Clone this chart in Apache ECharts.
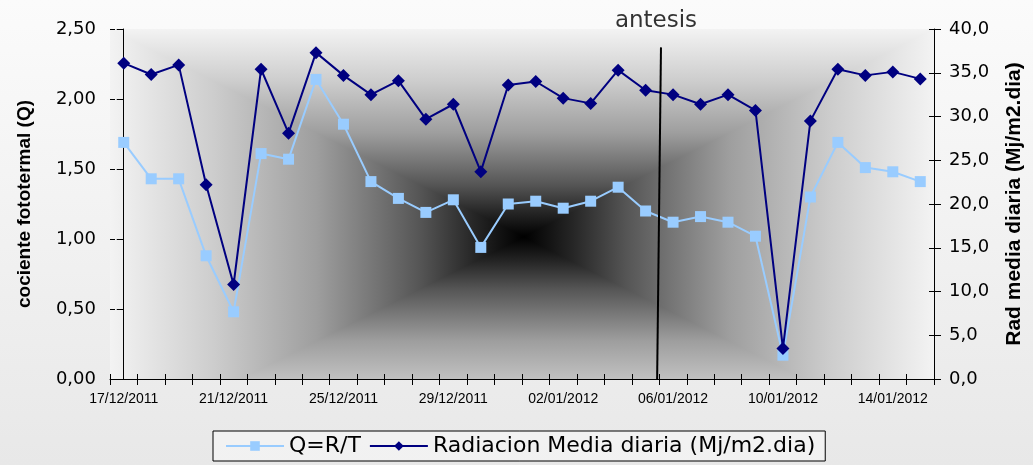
<!DOCTYPE html>
<html>
<head>
<meta charset="utf-8">
<script src="https://cdn.jsdelivr.net/npm/echarts@6/dist/echarts.min.js"></script>
<style>
  html, body { margin: 0; padding: 0; background: #fff; }
  #chart { width: 1033px; height: 465px; }
</style>
</head>
<body>
<div id="chart"></div>
<script>
// Daily dates of the period
const categories = [
  '17/12/2011', '18/12/2011', '19/12/2011', '20/12/2011', '21/12/2011',
  '22/12/2011', '23/12/2011', '24/12/2011', '25/12/2011', '26/12/2011',
  '27/12/2011', '28/12/2011', '29/12/2011', '30/12/2011', '31/12/2011',
  '01/01/2012', '02/01/2012', '03/01/2012', '04/01/2012', '05/01/2012',
  '06/01/2012', '07/01/2012', '08/01/2012', '09/01/2012', '10/01/2012',
  '11/01/2012', '12/01/2012', '13/01/2012', '14/01/2012', '15/01/2012'
];

// Photothermal quotient Q = R/T (left axis)
const qValues = [
  1.69, 1.43, 1.43, 0.88, 0.48, 1.61, 1.57, 2.14, 1.82, 1.41,
  1.29, 1.19, 1.28, 0.94, 1.25, 1.27, 1.22, 1.27, 1.37, 1.20,
  1.12, 1.16, 1.12, 1.02, 0.17, 1.30, 1.69, 1.51, 1.48, 1.41
];

// Mean daily radiation, Mj/m2.dia (right axis)
const radValues = [
  36.1, 34.8, 35.9, 22.2, 10.8, 35.4, 28.1, 37.3, 34.7, 32.5,
  34.1, 29.7, 31.4, 23.7, 33.6, 34.0, 32.1, 31.5, 35.3, 33.0,
  32.5, 31.4, 32.5, 30.7, 3.5, 29.5, 35.4, 34.7, 35.1, 34.3
];

// Anthesis marker: position along the day index (top, bottom) and its radiation-axis extent
const antesisIndex = [19.56, 19.42];
const antesisRange = [37.9, 0];

const FONT = "'Liberation Sans', Arial, Helvetica, sans-serif";
const WIDE = "'DejaVu Sans', 'Liberation Sans', Arial, sans-serif";
const BLACK = '#000000';

const chart = echarts.init(document.getElementById('chart'));

// shared scale settings for each axis and its inner tick twin
const qScale = { min: 0, max: 2.5, interval: 0.5 };
const radScale = { min: 0, max: 40, interval: 5 };

function innerTicks(base) {
  return Object.assign({
    axisLine: { show: false },
    axisTick: { show: true, inside: true, length: 5, lineStyle: { color: BLACK } },
    axisLabel: { show: false },
    splitLine: { show: false }
  }, base);
}

const option = {
  animation: false,
  backgroundColor: new echarts.graphic.LinearGradient(0, 0, 0, 1, [
    { offset: 0, color: '#fbfbfb' },
    { offset: 1, color: '#e8e8e8' }
  ]),
  textStyle: { fontFamily: FONT, color: BLACK },
  grid: { left: 110, right: 93, top: 29, bottom: 86, show: false },
  legend: {
    data: ['Q=R/T', 'Radiacion Media diaria (Mj/m2.dia)'],
    left: 213,
    top: 431,
    padding: [4, 10, 4, 12],
    borderColor: BLACK,
    borderWidth: 1,
    backgroundColor: 'rgba(255,255,255,0.4)',
    itemWidth: 58,
    itemHeight: 12,
    itemGap: 8,
    textStyle: { fontFamily: WIDE, fontSize: 22, color: BLACK }
  },
  xAxis: [
    {
      type: 'category',
      data: categories,
      boundaryGap: true,
      axisLine: { lineStyle: { color: BLACK, width: 1 } },
      axisTick: { show: true, interval: 0, length: 6, lineStyle: { color: BLACK } },
      axisLabel: { interval: 3, fontSize: 14, color: BLACK, margin: 13, fontFamily: FONT },
      splitLine: { show: false }
    },
    {
      // hidden continuous scale over the same days, used for the anthesis line
      type: 'value',
      min: -0.5,
      max: 29.5,
      show: false
    },
    innerTicks({
      type: 'category',
      data: categories,
      boundaryGap: true,
      position: 'bottom',
      axisTick: { show: true, inside: true, interval: 0, length: 5, lineStyle: { color: BLACK } }
    })
  ],
  yAxis: [
    Object.assign({
      type: 'value',
      position: 'left',
      name: 'cociente fototermal (Q)',
      nameLocation: 'middle',
      nameRotate: 90,
      nameGap: 76,
      nameTextStyle: { fontFamily: FONT, fontWeight: 'bold', fontSize: 19, color: BLACK },
      axisLine: { show: true, lineStyle: { color: BLACK, width: 1 } },
      axisTick: { show: true, length: 7, lineStyle: { color: BLACK } },
      axisLabel: {
        fontSize: 18, color: BLACK, margin: 14, fontFamily: WIDE,
        formatter: v => v.toFixed(2).replace('.', ',')
      },
      splitLine: { show: false }
    }, qScale),
    Object.assign({
      type: 'value',
      position: 'right',
      name: 'Rad media diaria (Mj/m2.dia)',
      nameLocation: 'middle',
      nameRotate: 90,
      nameGap: 70,
      nameTextStyle: { fontFamily: FONT, fontWeight: 'bold', fontSize: 21, color: BLACK },
      axisLine: { show: true, lineStyle: { color: BLACK, width: 1 } },
      axisTick: { show: true, length: 7, lineStyle: { color: BLACK } },
      axisLabel: {
        fontSize: 18, color: BLACK, margin: 15, fontFamily: WIDE,
        formatter: v => v.toFixed(1).replace('.', ',')
      },
      splitLine: { show: false }
    }, radScale),
    innerTicks(Object.assign({ type: 'value', position: 'left' }, qScale)),
    innerTicks(Object.assign({ type: 'value', position: 'right' }, radScale))
  ],
  series: [
    {
      name: 'Q=R/T',
      type: 'line',
      xAxisIndex: 0,
      yAxisIndex: 0,
      data: qValues,
      symbol: 'rect',
      symbolSize: 11,
      lineStyle: { color: '#99ccff', width: 2 },
      itemStyle: { color: '#99ccff' },
      z: 3
    },
    {
      name: 'Radiacion Media diaria (Mj/m2.dia)',
      type: 'line',
      xAxisIndex: 0,
      yAxisIndex: 1,
      data: radValues,
      symbol: 'diamond',
      symbolSize: 13,
      lineStyle: { color: '#000080', width: 2 },
      itemStyle: { color: '#000080' },
      z: 4
    },
    {
      name: 'antesis',
      type: 'line',
      xAxisIndex: 1,
      yAxisIndex: 1,
      data: [
        [antesisIndex[0], antesisRange[0]],
        [antesisIndex[1], antesisRange[1]]
      ],
      symbol: 'none',
      lineStyle: { color: BLACK, width: 2 },
      z: 5
    },
    {
      name: 'antesis-label',
      type: 'scatter',
      xAxisIndex: 1,
      yAxisIndex: 1,
      data: [[antesisIndex[0], antesisRange[0]]],
      symbolSize: 0.01,
      label: {
        show: true,
        position: 'top',
        distance: 15,
        offset: [-5, 0],
        formatter: 'antesis',
        fontFamily: WIDE,
        fontSize: 23,
        color: BLACK
      },
      z: 5
    }
  ]
};

chart.setOption(option);

// Plot-area fill: rectangular path gradient, dark in the middle, light toward the edges
function drawPlotBackground() {
  const L = chart.convertToPixel({ xAxisIndex: 1 }, -0.5);
  const R = chart.convertToPixel({ xAxisIndex: 1 }, 29.5);
  const T = chart.convertToPixel({ yAxisIndex: 0 }, 2.5);
  const B = chart.convertToPixel({ yAxisIndex: 0 }, 0);
  const cx = L + (R - L) * 0.502;
  const cy = T + (B - T) * 0.594;
  const hh = cy - T;
  const hwL = cx - L;
  const hwR = R - cx;
  const t = (B - cy) / hh;
  const xdL = cx - t * hwL;
  const xdR = cx + t * hwR;
  const stops = [
    { offset: 0, color: '#000000' },
    { offset: 0.12, color: '#262626' },
    { offset: 0.25, color: '#555555' },
    { offset: 0.5, color: '#9e9e9e' },
    { offset: 0.75, color: '#cdcdcd' },
    { offset: 1, color: '#f3f3f3' }
  ];
  const grad = (x1, y1, x2, y2) => new echarts.graphic.LinearGradient(x1, y1, x2, y2, stops, true);
  chart.setOption({
    graphic: [
      // left and right halves underneath, so the diagonal seams stay invisible
      { type: 'polygon', z: -12, silent: true,
        shape: { points: [[cx + 1, T], [L, T], [L, B], [cx + 1, B]] },
        style: { fill: grad(cx, cy, L, cy) } },
      { type: 'polygon', z: -12, silent: true,
        shape: { points: [[cx - 1, T], [R, T], [R, B], [cx - 1, B]] },
        style: { fill: grad(cx, cy, R, cy) } },
      // top and bottom wedges
      { type: 'polygon', z: -10, silent: true,
        shape: { points: [[cx, cy], [L, T], [R, T]] },
        style: { fill: grad(cx, cy, cx, T) } },
      { type: 'polygon', z: -10, silent: true,
        shape: { points: [[cx, cy], [xdL, B], [xdR, B]] },
        style: { fill: grad(cx, cy, cx, cy + hh) } }
    ]
  });
}
drawPlotBackground();
</script>
</body>
</html>
